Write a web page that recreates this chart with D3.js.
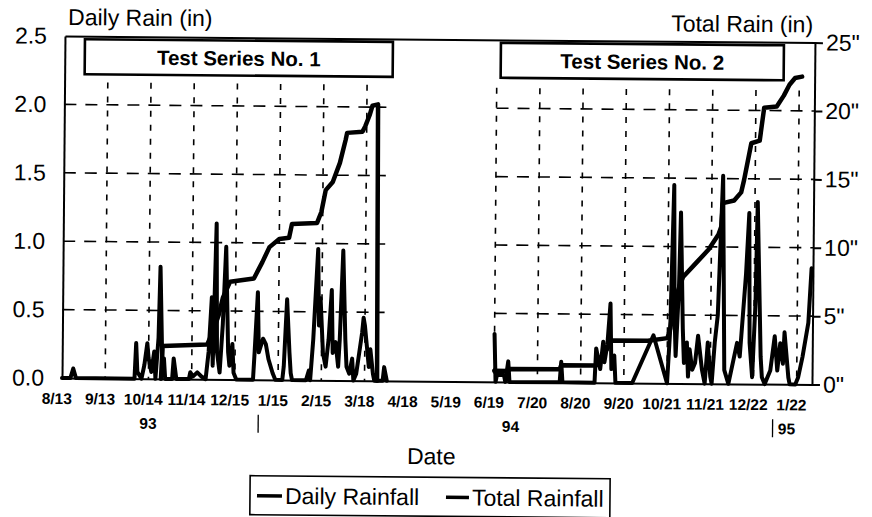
<!DOCTYPE html>
<html><head><meta charset="utf-8">
<script src="https://cdn.jsdelivr.net/npm/d3@7"></script>
<style>
body{margin:0;background:#fff}
text{font-family:"Liberation Sans",Arial,Helvetica,sans-serif;fill:#000}
</style>
</head><body>
<svg id="c" width="872" height="517"></svg>
<script>
// ---------------- data ----------------
const xDomain = ["1993-08-13", "1995-02-02"];
const xTickDates = ["1993-08-13","1993-09-13","1993-10-14","1993-11-14","1993-12-15","1994-01-15","1994-02-15","1994-03-18","1994-04-18","1994-05-19","1994-06-19","1994-07-20","1994-08-20","1994-09-20","1994-10-21","1994-11-21","1994-12-22","1995-01-22"];
const xTickLabels = ["8/13","9/13","10/14","11/14","12/15","1/15","2/15","3/18","4/18","5/19","6/19","7/20","8/20","9/20","10/21","11/21","12/22","1/22"];
const yearLabels = [["93","1993-10-14"],["94","1994-07-01"],["95","1995-01-15"]];
const yearMarks = ["1994-01-01","1995-01-05"];
const leftTicks = [0, 0.5, 1.0, 1.5, 2.0, 2.5];
const rightTicks = [0, 5, 10, 15, 20, 25];
const hGridValues = [0.5, 1.0, 1.5, 2.0];
const series1Grid = ["1993-09-13","1993-10-14","1993-11-14","1993-12-15","1994-01-15","1994-02-15","1994-03-18"];
const series2Grid = ["1994-06-19","1994-07-20","1994-08-20","1994-09-20","1994-10-21","1994-11-21","1994-12-22","1995-01-22"];
const series1Span = ["1993-08-13","1994-04-01"];
const series2Span = ["1994-06-19","1995-02-02"];
const seriesTitles = ["Test Series No. 1","Test Series No. 2"];
const legendLabels = ["Daily Rainfall","Total Rainfall"];

// daily rainfall (in), Test Series 1
const daily1 = [["1993-08-13",0],["1993-08-19",0],["1993-08-21",0.07],["1993-08-23",0],["1993-10-04",0],["1993-10-05",0.26],["1993-10-06",0.05],["1993-10-09",0],["1993-10-11",0.1],["1993-10-13",0.26],["1993-10-14",0.15],["1993-10-16",0.05],["1993-10-18",0.2],["1993-10-19",0],["1993-10-21",0.3],["1993-10-22",0.82],["1993-10-24",0.05],["1993-10-25",0.15],["1993-10-26",0],["1993-10-31",0],["1993-11-01",0.15],["1993-11-03",0],["1993-11-12",0],["1993-11-13",0.05],["1993-11-15",0.02],["1993-11-18",0.05],["1993-11-21",0.02],["1993-11-24",0],["1993-11-26",0.2],["1993-11-28",0.6],["1993-11-29",0.1],["1993-12-01",1.14],["1993-12-02",0.2],["1993-12-04",0.05],["1993-12-06",0.4],["1993-12-08",0.97],["1993-12-10",0.2],["1993-12-11",0.1],["1993-12-13",0.26],["1993-12-14",0.05],["1993-12-16",0],["1993-12-28",0],["1993-12-29",0.2],["1993-12-31",0.64],["1994-01-01",0.2],["1994-01-04",0.3],["1994-01-06",0.26],["1994-01-08",0.15],["1994-01-11",0.05],["1994-01-13",0],["1994-01-18",0],["1994-01-19",0.1],["1994-01-21",0.59],["1994-01-23",0.2],["1994-01-24",0.05],["1994-01-25",0],["1994-02-04",0],["1994-02-06",0.07],["1994-02-07",0],["1994-02-09",0.3],["1994-02-12",0.96],["1994-02-13",0.4],["1994-02-14",0.6],["1994-02-16",0.2],["1994-02-18",0.1],["1994-02-20",0.3],["1994-02-22",0.66],["1994-02-23",0.2],["1994-02-25",0.28],["1994-02-27",0.1],["1994-02-28",0.3],["1994-03-02",0.95],["1994-03-04",0.3],["1994-03-05",0.1],["1994-03-07",0.05],["1994-03-09",0.16],["1994-03-10",0],["1994-03-12",0.05],["1994-03-14",0.2],["1994-03-16",0.35],["1994-03-17",0.46],["1994-03-18",0.4],["1994-03-19",0.3],["1994-03-21",0.1],["1994-03-22",0.23],["1994-03-24",0.05],["1994-03-25",0],["1994-03-31",0],["1994-04-01",0.1],["1994-04-03",0]];

// total rainfall (in), Test Series 1
const total1 = [["1993-10-23",0],["1993-10-24",2.4],["1993-11-25",2.55],["1993-11-29",3.5],["1993-12-03",4.7],["1993-12-06",6.0],["1993-12-11",7.15],["1993-12-28",7.4],["1994-01-03",8.6],["1994-01-08",9.7],["1994-01-15",10.3],["1994-01-22",10.4],["1994-01-24",11.4],["1994-02-11",11.5],["1994-02-14",12.3],["1994-02-17",13.9],["1994-02-22",14.5],["1994-02-27",15.9],["1994-03-03",17.6],["1994-03-04",18.1],["1994-03-15",18.2],["1994-03-17",18.6],["1994-03-20",19.4],["1994-03-22",20.1],["1994-03-26",20.2],["1994-03-27",0]];

// daily rainfall (in), Test Series 2
const daily2 = [["1994-06-19",0.35],["1994-06-20",0],["1994-06-21",0.05],["1994-06-26",0.05],["1994-06-27",0],["1994-06-29",0.15],["1994-06-30",0],["1994-08-05",0],["1994-08-06",0.15],["1994-08-07",0],["1994-08-30",0],["1994-08-31",0.25],["1994-09-03",0.1],["1994-09-05",0.3],["1994-09-06",0.15],["1994-09-08",0.28],["1994-09-10",0.58],["1994-09-11",0.1],["1994-09-13",0.2],["1994-09-14",0],["1994-09-26",0],["1994-10-11",0.35],["1994-10-21",0],["1994-10-23",0.4],["1994-10-25",1.45],["1994-10-26",0.5],["1994-10-27",0.2],["1994-10-29",0.7],["1994-10-30",1.25],["1994-11-01",0.4],["1994-11-02",0.15],["1994-11-04",0.3],["1994-11-05",0.05],["1994-11-06",0.25],["1994-11-08",0.1],["1994-11-10",0.15],["1994-11-12",0.35],["1994-11-15",0.1],["1994-11-17",0],["1994-11-19",0.3],["1994-11-21",0.05],["1994-11-22",0],["1994-11-24",0.3],["1994-11-26",0.5],["1994-11-29",1.52],["1994-12-01",0.1],["1994-12-04",0],["1994-12-07",0.15],["1994-12-10",0.3],["1994-12-12",0.2],["1994-12-14",0.5],["1994-12-16",0.8],["1994-12-18",1.25],["1994-12-19",0.3],["1994-12-21",0.05],["1994-12-23",0.6],["1994-12-24",1.33],["1994-12-27",0.2],["1994-12-28",0.05],["1994-12-30",0],["1995-01-03",0.1],["1995-01-06",0.35],["1995-01-08",0.1],["1995-01-10",0.3],["1995-01-12",0.15],["1995-01-13",0.38],["1995-01-16",0.05],["1995-01-17",0],["1995-01-21",0],["1995-01-23",0.05],["1995-01-26",0.2],["1995-01-30",0.45],["1995-02-01",0.85]];

// total rainfall (in), Test Series 2
const total2 = [["1994-06-19",0.8],["1994-06-29",0.8],["1994-06-30",0.95],["1994-08-05",0.95],["1994-08-06",1.25],["1994-08-31",1.25],["1994-09-03",1.8],["1994-09-08",2.5],["1994-09-11",3.1],["1994-10-07",3.1],["1994-10-21",3.3],["1994-10-23",4.0],["1994-10-25",5.5],["1994-10-27",6.3],["1994-10-30",7.3],["1994-11-01",7.8],["1994-11-10",8.8],["1994-11-19",9.8],["1994-11-26",10.9],["1994-11-28",11.5],["1994-11-29",13.2],["1994-12-07",13.4],["1994-12-12",14.0],["1994-12-14",14.9],["1994-12-19",17.6],["1994-12-25",17.8],["1994-12-28",20.2],["1995-01-06",20.3],["1995-01-11",21.1],["1995-01-15",21.9],["1995-01-19",22.4],["1995-01-24",22.5]];

// ---------------- chart ----------------
const parse = d3.utcParse("%Y-%m-%d");
const L = 62, R = 812, T = 36, B = 378;
const svg = d3.select("#c");
const g = svg.append("g").attr("transform", `rotate(0.5,${L},${B})`);

const x = d3.scaleUtc().domain(xDomain.map(parse)).range([L, R]);
const yL = d3.scaleLinear().domain([0, 2.5]).range([B, T]);
const yR = d3.scaleLinear().domain([0, 25]).range([B, T]);

// grid
const grid = g.append("g").attr("stroke", "#000").attr("fill", "none");
[[series1Grid, 82], [series2Grid, 84]].forEach(([dates, top]) => {
  grid.selectAll(null).data(dates).enter().append("line")
    .attr("x1", d => x(parse(d))).attr("x2", d => x(parse(d)))
    .attr("y1", top).attr("y2", B)
    .attr("stroke-width", 1.6).attr("stroke-dasharray", "6,8");
});
[series1Span, series2Span].forEach(span => {
  grid.selectAll(null).data(hGridValues).enter().append("line")
    .attr("x1", x(parse(span[0]))).attr("x2", x(parse(span[1])))
    .attr("y1", d => yL(d)).attr("y2", d => yL(d))
    .attr("stroke-width", 1.6).attr("stroke-dasharray", "12,9");
});

// axes
const axL = g.append("g").attr("transform", `translate(${L},0)`)
  .call(d3.axisLeft(yL).tickValues(leftTicks).tickFormat(d3.format(".1f")).tickSize(0).tickPadding(18));
const axR = g.append("g").attr("transform", `translate(${R},0)`)
  .call(d3.axisRight(yR).tickValues(rightTicks).tickFormat(d => d + '"').tickSizeInner(8).tickSizeOuter(0).tickPadding(3));
const axB = g.append("g").attr("transform", `translate(0,${B})`)
  .call(d3.axisBottom(x).tickValues([]).tickSizeOuter(0));
const axT = g.append("g").attr("transform", `translate(0,${T})`)
  .call(d3.axisTop(x).tickValues([]).tickSizeOuter(0));
[axL, axR, axB, axT].forEach(a => {
  a.select(".domain").attr("stroke", "#000").attr("stroke-width", 2);
  a.selectAll(".tick line").attr("stroke", "#000").attr("stroke-width", 2);
  a.selectAll(".tick text").attr("font-size", 23).attr("font-family", '"Liberation Sans",Arial,sans-serif').attr("fill", "#000");
});

// x tick labels
g.append("g").selectAll("text").data(xTickDates).enter().append("text")
  .attr("x", d => x(parse(d)) - 5).attr("y", 404)
  .attr("text-anchor", "middle").attr("font-size", 15.5).attr("font-weight", "bold")
  .text((d, i) => xTickLabels[i]);
g.append("g").selectAll("text").data(yearLabels).enter().append("text")
  .attr("x", d => x(parse(d[1]))).attr("y", 428)
  .attr("text-anchor", "middle").attr("font-size", 15.5).attr("font-weight", "bold")
  .text(d => d[0]);
g.append("g").selectAll("line").data(yearMarks).enter().append("line")
  .attr("x1", d => x(parse(d))).attr("x2", d => x(parse(d)))
  .attr("y1", 413).attr("y2", 431).attr("stroke", "#000").attr("stroke-width", 1.3);

// series lines
const line = y => d3.line().x(d => x(parse(d[0]))).y(d => y(d[1]));
const lines = g.append("g").attr("fill", "none").attr("stroke", "#000")
  .attr("stroke-linejoin", "round").attr("stroke-linecap", "round");
[daily1, daily2].forEach(s => lines.append("path").datum(s).attr("d", line(yL)).attr("stroke-width", 4));
[total1, total2].forEach(s => lines.append("path").datum(s).attr("d", line(yR)).attr("stroke-width", 4.5));

// series title boxes
const boxes = [[82, 390], [498, 781]];
boxes.forEach((b, i) => {
  g.append("rect").attr("x", b[0]).attr("y", 39).attr("width", b[1] - b[0]).attr("height", 35)
    .attr("fill", "#fff").attr("stroke", "#000").attr("stroke-width", 2.6);
  g.append("text").attr("x", (b[0] + b[1]) / 2).attr("y", 64).attr("text-anchor", "middle")
    .attr("font-size", 20.5).attr("font-weight", "bold").text(seriesTitles[i]);
});

// axis titles
g.append("text").attr("x", 65).attr("y", 25).attr("font-size", 23).text("Daily Rain (in)");
g.append("text").attr("x", 810).attr("y", 26).attr("text-anchor", "end").attr("font-size", 23).text("Total Rain (in)");
g.append("text").attr("x", 432).attr("y", 461).attr("text-anchor", "middle").attr("font-size", 23).text("Date");

// legend
const lg = g.append("g");
lg.append("rect").attr("x", 251).attr("y", 474).attr("width", 360).attr("height", 39)
  .attr("fill", "#fff").attr("stroke", "#000").attr("stroke-width", 1.6);
const legendPos = [[258, 283, 286], [447, 470, 473]];
legendLabels.forEach((lab, i) => {
  const p = legendPos[i];
  lg.append("line").attr("x1", p[0]).attr("x2", p[1]).attr("y1", 494).attr("y2", 494)
    .attr("stroke", "#000").attr("stroke-width", 3.5);
  lg.append("text").attr("x", p[2]).attr("y", 502).attr("font-size", 23).text(lab);
});
</script>
</body></html>
